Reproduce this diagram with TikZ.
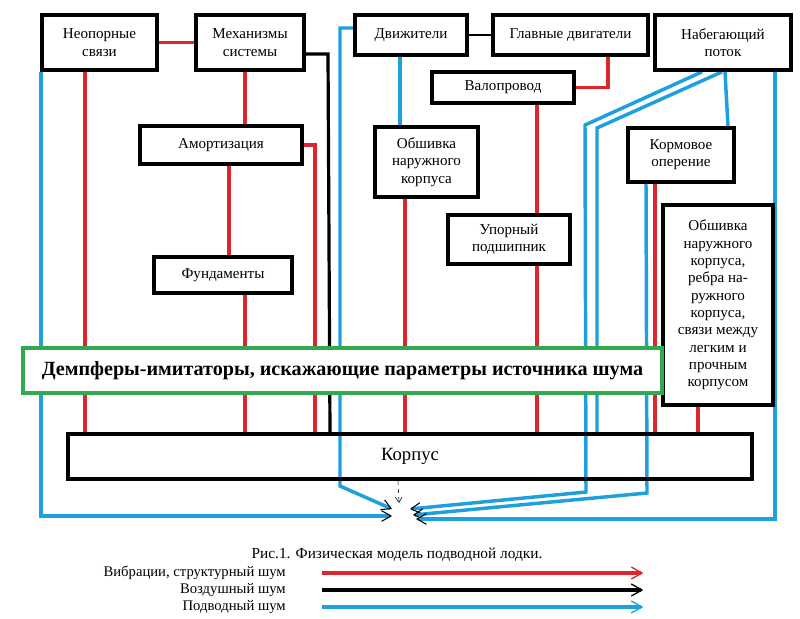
\documentclass[tikz,border=0pt]{standalone}
\usepackage{fontspec}
\setmainfont{Liberation Serif}
\usetikzlibrary{arrows.meta,positioning,calc,backgrounds}
\definecolor{vibred}{RGB}{220,38,48}
\definecolor{wblue}{RGB}{30,160,222}
\definecolor{dgreen}{RGB}{50,168,80}
\tikzset{
  blk/.style={draw,line width=2.8pt,fill=white,align=center,inner sep=1pt,font=\fontsize{11.3}{13}\selectfont},
  sz/.style 2 args={minimum width=#1*0.75pt,minimum height=#2*0.75pt},
  vib/.style={vibred,line width=2.6pt},
  air/.style={black,line width=2.4pt},
  uw/.style={wblue,line width=2.6pt},
  tip/.style={-{Straight Barb[color=black,length=7pt,width=8pt,line width=0.8pt]}},
  legtxt/.style={anchor=east,inner sep=0pt,font=\fontsize{11}{13}\selectfont},
  legtip/.style={-{Straight Barb[length=8pt,width=9pt,line width=1pt]}}
}
\begin{document}
\begin{tikzpicture}[x=0.75pt,y=-0.75pt]
\useasboundingbox (0,0) rectangle (800,618);
% blocks
\node[blk,sz={115}{55}] (neop) at (99.5,42.5) {Неопорные\\связи};
\node[blk,sz={108}{55}] (mech) at (250,42.5) {Механизмы\\системы};
\node[blk,sz={162}{38}] (amort) at (221,145) {Амортизация};
\node[blk,sz={138}{36}] (fund) at (223,275) {Фундаменты};
\node[blk,sz={112}{40}] (dvig) at (411,35) {Движители};
\node[blk,sz={155}{40}] (glav) at (570.5,35) {Главные двигатели};
\node[blk,sz={136}{55}] (nabeg) at (723,42.5) {Набегающий\\поток};
\node[blk,sz={142}{31}] (valop) at (503,87.5) {Валопровод};
\node[blk,sz={103}{70}] (obsh1) at (426.5,162) {Обшивка\\наружного\\корпуса};
\node[blk,sz={106}{54}] (korm) at (681,155) {Кормовое\\оперение};
\node[blk,sz={122}{49}] (upor) at (509,239.5) {Упорный\\подшипник};
\node[blk,sz={110}{200}] (obsh2) at (718,305) {Обшивка\\наружного\\корпуса,\\ребра на-\\ружного\\корпуса,\\связи между\\легким и\\прочным\\корпусом};
\node[blk,sz={639}{45},draw=dgreen,font=\fontsize{15.1}{18}\selectfont\bfseries] (damp) at (342.5,370.5) {Демпферы-имитаторы, искажающие параметры источника шума};
\node[blk,sz={684}{45},fill=none,font=\fontsize{14}{16}\selectfont] (korp) at (410,456.5) {Корпус};
% meeting point under the hull
\coordinate (cL1) at (392,516);
\coordinate (cL2) at (392,509);
\coordinate (cR1) at (410,509);
\coordinate (cR2) at (413,515);
\coordinate (cR3) at (416,519);
\begin{pgfonlayer}{background}
% vibrations, structural noise
\draw[vib] (neop.east) -- (mech.west);
\draw[vib] (85,0 |- neop.south) -- (85,0 |- korp.north);
\draw[vib] (245,0 |- mech.south) -- (245,0 |- amort.north);
\draw[vib] (229,0 |- amort.south) -- (229,0 |- fund.north);
\draw[vib] (245,0 |- fund.south) -- (245,0 |- korp.north);
\draw[vib] (amort.east) -| (315,0 |- korp.north);
\draw[vib] (608,0 |- glav.south) |- (valop.east);
\draw[vib] (537,0 |- valop.south) -- (537,0 |- korp.north);
\draw[vib] (405,0 |- obsh1.south) -- (405,0 |- korp.north);
\draw[vib] (655,0 |- korm.south) -- (655,0 |- korp.north);
\draw[vib] (698,0 |- obsh2.south) -- (698,0 |- korp.north);
% air noise
\draw[air] (mech.east |- 0,54) -- (328,54) -- (330,0 |- korp.north);
\draw[black,line width=1pt] (dvig.east) -- (glav.west);
% underwater noise
\draw[uw,tip] (41,0 |- neop.south) |- (cL1);
\draw[uw,tip] (dvig.west |- 0,28) -| (340,486) -- (cL2);
\draw[uw] (400,0 |- dvig.south) -- (400,0 |- obsh1.north);
\draw[uw,tip] (702,0 |- nabeg.south) -- (585,125) -- (586,492) -- (cR1);
\draw[uw] (722,0 |- nabeg.south) -- (597,128) -- (597,0 |- korp.north);
\draw[uw] (725,0 |- nabeg.south) -- (728,0 |- korm.north);
\draw[uw,tip] (646,0 |- korm.south) -- (647,493) -- (cR2);
\draw[uw,tip] (775,0 |- nabeg.south) |- (cR3);
\end{pgfonlayer}
\draw[black,thin,dashed,-{Straight Barb[length=4pt,width=5pt]}] (398,0 |- korp.south) -- (399,503);
% caption and legend
\node[font=\fontsize{11.5}{13}\selectfont] (cap) at (397,555) {Рис.1. Физическая модель подводной лодки.};
\node[legtxt] (legv) at (286,573) {Вибрации, структурный шум};
\node[legtxt] (lega) at (286,590) {Воздушный шум};
\node[legtxt] (legw) at (286,607) {Подводный шум};
\draw[vibred,line width=2.4pt,legtip] ([xshift=27pt]legv.east) -- ([xshift=268pt]legv.east);
\draw[black,line width=2.4pt,legtip] ([xshift=27pt]lega.east) -- ([xshift=268pt]lega.east);
\draw[wblue,line width=2.4pt,legtip] ([xshift=27pt]legw.east) -- ([xshift=268pt]legw.east);
\end{tikzpicture}
\end{document}
